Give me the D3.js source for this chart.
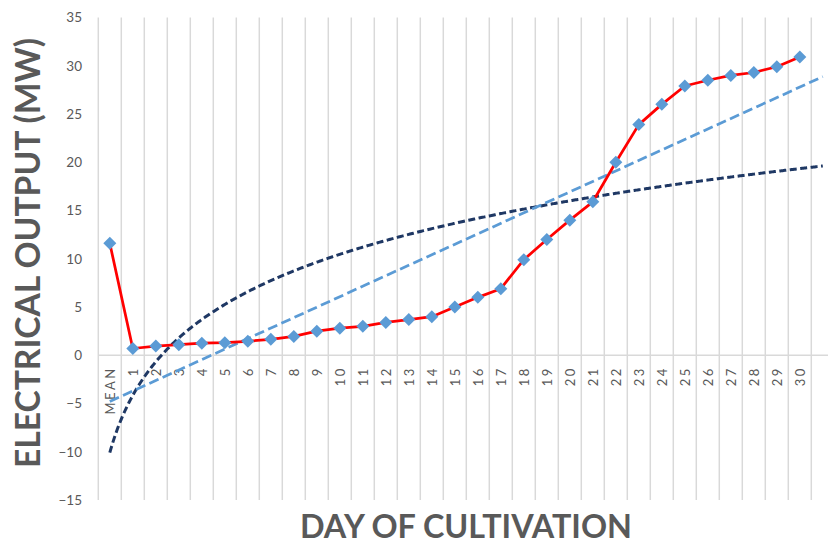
<!DOCTYPE html>
<html>
<head>
<meta charset="utf-8">
<script src="https://cdn.jsdelivr.net/npm/d3@7"></script>
<style>
  html, body { margin: 0; padding: 0; background: #fff; }
  svg { display: block; }
</style>
</head>
<body>
<svg id="chart" width="828" height="544"></svg>
<script>
// ---- data ----
const categories = ["MEAN","1","2","3","4","5","6","7","8","9","10","11","12","13","14","15","16","17","18","19","20","21","22","23","24","25","26","27","28","29","30",""];
const output = [11.6, 0.7, 0.95, 1.1, 1.25, 1.3, 1.45, 1.65, 1.95, 2.5, 2.8, 3.0, 3.4, 3.7, 4.0, 5.0, 6.0, 6.9, 9.9, 12.0, 14.0, 15.9, 20.0, 23.9, 26.0, 27.9, 28.5, 29.0, 29.3, 29.9, 30.9];
const yTicks = [-15, -10, -5, 0, 5, 10, 15, 20, 25, 30, 35];
const yTitle = "ELECTRICAL OUTPUT (MW)";
const xTitle = "DAY OF CULTIVATION";

// ---- layout ----
const svg = d3.select("#chart");
const plotLeft = 98.3, bandW = 23.0;
const plotTop = 17.5, plotBottom = 500;

const x = d3.scaleBand().domain(categories).range([plotLeft, plotLeft + bandW * categories.length]).padding(0);
const y = d3.scaleLinear().domain([-15, 35]).range([plotBottom, plotTop]);
const xi = d3.scaleLinear().domain([1, categories.length]).range([x(categories[0]) + x.bandwidth() / 2, x(categories[categories.length - 1]) + x.bandwidth() / 2]);

const grey = "#595959";
const font = "Lato, 'Open Sans', sans-serif";

// vertical gridlines at category boundaries
const bounds = categories.map(c => x(c));
svg.append("g").selectAll("line").data(bounds).join("line")
  .attr("x1", d => d).attr("x2", d => d)
  .attr("y1", y(35)).attr("y2", y(-15))
  .attr("stroke", "#d9d9d9").attr("stroke-width", 1.5);

// zero (category axis) line
svg.append("line")
  .attr("x1", plotLeft).attr("x2", 828)
  .attr("y1", y(0)).attr("y2", y(0))
  .attr("stroke", "#d9d9d9").attr("stroke-width", 1.5);

// y axis labels
const yAxis = d3.axisLeft(y).tickValues(yTicks).tickSize(0).tickPadding(0);
const gy = svg.append("g").attr("transform", `translate(82,0)`).call(yAxis);
gy.select(".domain").remove();
gy.selectAll("text").attr("fill", grey).attr("font-family", font).attr("font-size", 13.5);

// category labels (rotated)
svg.append("g").selectAll("text").data(categories.filter(c => c !== "")).join("text")
  .attr("transform", d => `translate(${x(d) + x.bandwidth() / 2},${y(0) + 11}) rotate(-90)`)
  .attr("text-anchor", "end")
  .attr("dominant-baseline", "central")
  .attr("letter-spacing", 2.5)
  .attr("fill", grey).attr("font-family", font).attr("font-size", 13)
  .text(d => d);

// trendlines computed from the data (least squares, x = 1..n)
const n = output.length;
const xs = d3.range(1, n + 1);
function fit(tx) {
  const X = xs.map(tx);
  const mx = d3.mean(X), my = d3.mean(output);
  let sxy = 0, sxx = 0;
  X.forEach((v, i) => { sxy += (v - mx) * (output[i] - my); sxx += (v - mx) * (v - mx); });
  const b = sxy / sxx;
  return { b, a: my - b * mx };
}
const lin = fit(v => v);
const lg = fit(v => Math.log(v));
const tEnd = categories.length; // forecast forward one period
const linPts = [1, tEnd].map(t => [xi(t), y(lin.a + lin.b * t)]);
const logPts = d3.range(1, tEnd + 0.0001, 0.05).map(t => [xi(t), y(lg.a + lg.b * Math.log(t))]);

svg.append("path").attr("d", d3.line()(logPts))
  .attr("fill", "none").attr("stroke", "#1F3864").attr("stroke-width", 3)
  .attr("stroke-dasharray", "7,3.5");
svg.append("path").attr("d", d3.line()(linPts))
  .attr("fill", "none").attr("stroke", "#5B9BD5").attr("stroke-width", 2.75)
  .attr("stroke-dasharray", "10,4.5");

// data line
const line = d3.line().x((d, i) => x(categories[i]) + x.bandwidth() / 2).y(d => y(d));
svg.append("path").attr("d", line(output))
  .attr("fill", "none").attr("stroke", "#FF0000").attr("stroke-width", 2.75)
  .attr("stroke-linejoin", "round");

// diamond markers
svg.append("g").selectAll("path").data(output).join("path")
  .attr("transform", (d, i) => `translate(${x(categories[i]) + x.bandwidth() / 2},${y(d)})`)
  .attr("d", "M0,-6.5L6.5,0L0,6.5L-6.5,0Z")
  .attr("fill", "#5B9BD5");

// axis titles
svg.append("text")
  .attr("transform", `translate(40,253) rotate(-90)`)
  .attr("text-anchor", "middle")
  .attr("font-family", font).attr("font-weight", "bold").attr("font-size", 34)
  .attr("fill", grey)
  .attr("textLength", 430).attr("lengthAdjust", "spacingAndGlyphs")
  .text(yTitle);

svg.append("text")
  .attr("x", 466).attr("y", 538)
  .attr("text-anchor", "middle")
  .attr("font-family", font).attr("font-weight", "bold").attr("font-size", 32)
  .attr("fill", grey)
  .attr("textLength", 332).attr("lengthAdjust", "spacingAndGlyphs")
  .text(xTitle);
</script>
</body>
</html>
